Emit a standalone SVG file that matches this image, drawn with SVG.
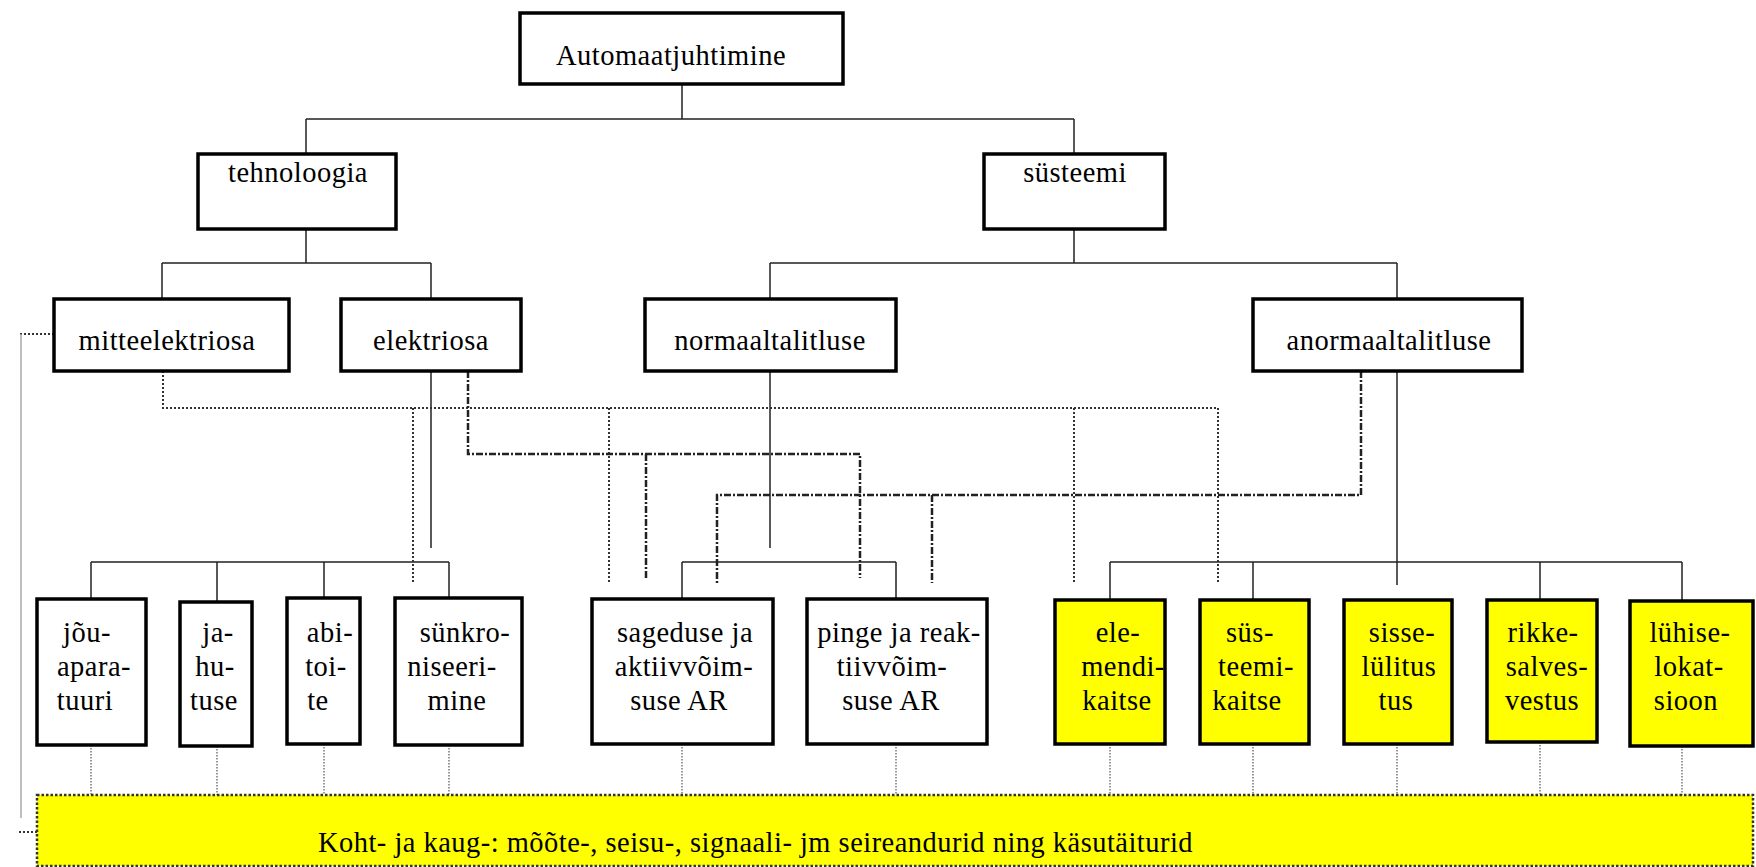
<svg xmlns="http://www.w3.org/2000/svg" width="1756" height="867" viewBox="0 0 1756 867">
  <style>
    .box { fill: #ffffff; stroke: #000000; stroke-width: 3.5; }
    .ybox { fill: #ffff00; stroke: #000000; stroke-width: 3.5; }
    .t { font-family: "Liberation Serif", "Times New Roman", serif; font-size: 28.5px; letter-spacing: 0.5px; fill: #000000; text-anchor: middle; }
    .solid { stroke: #222222; stroke-width: 1.5; fill: none; }
    .dot { stroke: #333333; stroke-width: 2; stroke-dasharray: 2 2; fill: none; }
    .dashdot { stroke: #222222; stroke-width: 2.5; stroke-dasharray: 7 2 2 2; fill: none; }
    .fine { stroke: #555555; stroke-width: 1.2; stroke-dasharray: 1.5 1.5; fill: none; }
    .grey { stroke: #a8a8a8; stroke-width: 1.5; fill: none; }
    .bar { fill: #ffff00; stroke: #333333; stroke-width: 2.5; stroke-dasharray: 2.5 2; }
  </style>

  <!-- connectors -->
  <g id="connectors">
    <!-- tree: root and second level -->
    <path class="solid" d="M682 84 V119 M306 119 H1074 M306 119 V154 M1074 119 V154"/>
    <path class="solid" d="M306 229 V263 M162 263 H431 M162 263 V299 M431 263 V299"/>
    <path class="solid" d="M1074 229 V263 M770 263 H1397 M770 263 V299 M1397 263 V299"/>
    <!-- third level down-links (stop short of the bus) -->
    <path class="solid" d="M431 371 V548"/>
    <path class="solid" d="M770 371 V548"/>
    <path class="solid" d="M1397 371 V585"/>
    <!-- fourth level buses -->
    <path class="solid" d="M91 562 H449 M91 562 V599 M217 562 V602 M324 562 V598 M449 562 V598"/>
    <path class="solid" d="M682 562 H896 M682 562 V599 M896 562 V599"/>
    <path class="solid" d="M1110 562 H1682 M1110 562 V600 M1253 562 V600 M1540 562 V600 M1682 562 V601"/>

    <!-- dotted cross-links from mitteelektriosa -->
    <path class="dot" d="M163 371 V408 H1218 V583"/>
    <path class="dot" d="M413 408 V583 M609 408 V583 M1074 408 V583"/>
    <path class="dot" d="M54 334 H20"/>
    <path class="grey" d="M21 334 V818"/>
    <path class="dot" d="M19 832 H37"/>

    <!-- dash-dot cross-links from elektriosa -->
    <path class="dashdot" d="M468 371 V454 H860 V578"/>
    <path class="dashdot" d="M646 454 V578"/>

    <!-- dash-dot cross-links from anormaaltalitluse -->
    <path class="dashdot" d="M1361 371 V495 H717 V583"/>
    <path class="dashdot" d="M932 495 V583"/>

    <!-- fine dotted links to the sensor bar -->
    <path class="fine" d="M91 745 V795 M217 746 V795 M324 744 V795 M449 745 V795 M682 744 V795 M896 744 V795 M1110 744 V795 M1253 744 V795 M1397 744 V795 M1540 742 V795 M1682 746 V795"/>
  </g>

  <!-- root -->
  <g id="n-automaatjuhtimine">
    <rect class="box" x="520" y="13" width="323" height="71"/>
    <text class="t" x="671" y="65">Automaatjuhtimine</text>
  </g>

  <!-- second level -->
  <g id="n-tehnoloogia">
    <rect class="box" x="198" y="154" width="198" height="75"/>
    <text class="t" x="298" y="182">tehnoloogia</text>
  </g>
  <g id="n-systeemi">
    <rect class="box" x="984" y="154" width="181" height="75"/>
    <text class="t" x="1075" y="182">süsteemi</text>
  </g>

  <!-- third level -->
  <g id="n-mitteelektriosa">
    <rect class="box" x="54" y="299" width="235" height="72"/>
    <text class="t" x="167" y="350">mitteelektriosa</text>
  </g>
  <g id="n-elektriosa">
    <rect class="box" x="341" y="299" width="180" height="72"/>
    <text class="t" x="431" y="350">elektriosa</text>
  </g>
  <g id="n-normaaltalitluse">
    <rect class="box" x="645" y="299" width="251" height="72"/>
    <text class="t" x="770" y="350">normaaltalitluse</text>
  </g>
  <g id="n-anormaaltalitluse">
    <rect class="box" x="1253" y="299" width="269" height="72"/>
    <text class="t" x="1389" y="350">anormaaltalitluse</text>
  </g>

  <!-- fourth level: technology -->
  <g id="n-jouaparatuuri">
    <rect class="box" x="37" y="599" width="109" height="146"/>
    <text class="t" x="87" y="642">jõu-</text>
    <text class="t" x="94" y="676">apara-</text>
    <text class="t" x="85" y="710">tuuri</text>
  </g>
  <g id="n-jahutuse">
    <rect class="box" x="180" y="602" width="72" height="144"/>
    <text class="t" x="218" y="642">ja-</text>
    <text class="t" x="215" y="676">hu-</text>
    <text class="t" x="214" y="710">tuse</text>
  </g>
  <g id="n-abitoite">
    <rect class="box" x="287" y="598" width="73" height="146"/>
    <text class="t" x="330" y="642">abi-</text>
    <text class="t" x="326" y="676">toi-</text>
    <text class="t" x="318" y="710">te</text>
  </g>
  <g id="n-synkroniseerimine">
    <rect class="box" x="395" y="598" width="127" height="147"/>
    <text class="t" x="465" y="642">sünkro-</text>
    <text class="t" x="452" y="676">niseeri-</text>
    <text class="t" x="457" y="710">mine</text>
  </g>

  <!-- fourth level: normal operation -->
  <g id="n-sageduse-ar">
    <rect class="box" x="592" y="599" width="181" height="145"/>
    <text class="t" x="685" y="642">sageduse ja</text>
    <text class="t" x="684" y="676">aktiivvõim-</text>
    <text class="t" x="679" y="710">suse AR</text>
  </g>
  <g id="n-pinge-ar">
    <rect class="box" x="807" y="599" width="180" height="145"/>
    <text class="t" x="899" y="642">pinge ja reak-</text>
    <text class="t" x="892" y="676">tiivvõim-</text>
    <text class="t" x="891" y="710">suse AR</text>
  </g>

  <!-- fourth level: abnormal operation -->
  <g id="n-elemendikaitse">
    <rect class="ybox" x="1055" y="600" width="110" height="144"/>
    <text class="t" x="1118" y="642">ele-</text>
    <text class="t" x="1123" y="676">mendi-</text>
    <text class="t" x="1117" y="710">kaitse</text>
  </g>
  <g id="n-systeemikaitse">
    <rect class="ybox" x="1200" y="600" width="109" height="144"/>
    <text class="t" x="1250" y="642">süs-</text>
    <text class="t" x="1256" y="676">teemi-</text>
    <text class="t" x="1247" y="710">kaitse</text>
  </g>
  <g id="n-sisselulitus">
    <rect class="ybox" x="1344" y="600" width="108" height="144"/>
    <text class="t" x="1402" y="642">sisse-</text>
    <text class="t" x="1399" y="676">lülitus</text>
    <text class="t" x="1396" y="710">tus</text>
  </g>
  <g id="n-rikkesalvestus">
    <rect class="ybox" x="1487" y="600" width="110" height="142"/>
    <text class="t" x="1543" y="642">rikke-</text>
    <text class="t" x="1547" y="676">salves-</text>
    <text class="t" x="1542" y="710">vestus</text>
  </g>
  <g id="n-luhiselokatsioon">
    <rect class="ybox" x="1630" y="601" width="123" height="145"/>
    <text class="t" x="1690" y="642">lühise-</text>
    <text class="t" x="1689" y="676">lokat-</text>
    <text class="t" x="1686" y="710">sioon</text>
  </g>

  <!-- sensor and actuator bar -->
  <g id="n-seireandurid">
    <rect class="bar" x="37" y="795" width="1716" height="71"/>
    <text class="t" x="318" y="852" style="text-anchor: start" textLength="875" lengthAdjust="spacingAndGlyphs">Koht- ja kaug-: mõõte-, seisu-, signaali- jm seireandurid ning käsutäiturid</text>
  </g>
</svg>
